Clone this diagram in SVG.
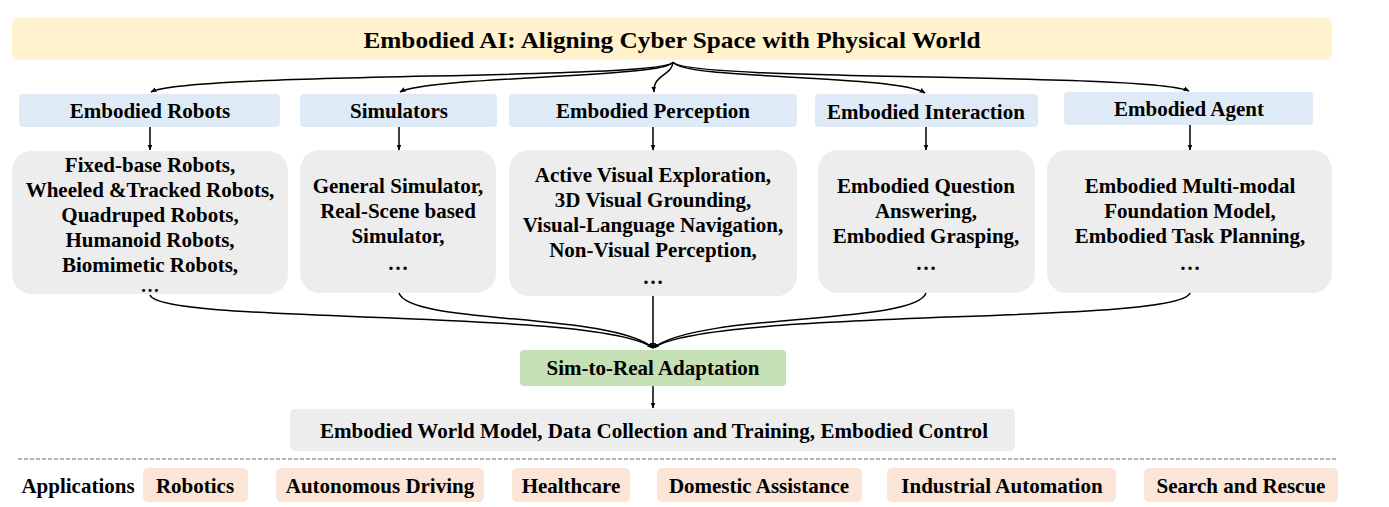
<svg xmlns="http://www.w3.org/2000/svg" width="1389" height="507" viewBox="0 0 1389 507">
<style>
text{font-family:"Liberation Serif","Times New Roman",serif;font-weight:bold;fill:#000;text-anchor:middle}
.t{font-size:21px}
.dots{font-size:19px}
.title{font-size:24px}
.lab{fill:#deebf7}
.gray{fill:#ededed}
.app{fill:#fbe5d6}
.con path{fill:none;stroke:#000;stroke-width:1.5}
</style>
<defs>
<marker id="ah" viewBox="0 0 10 10" refX="9" refY="5" markerWidth="6" markerHeight="6" orient="auto-start-reverse" markerUnits="userSpaceOnUse">
<path d="M0,1 L10,5 L0,9 Z" fill="#000"/>
</marker>
</defs>
<rect width="1389" height="507" fill="#fff"/>
<g id="title"><rect x="12" y="18" width="1320" height="42" rx="6" fill="#fff2cc"/><text class="title" x="672" y="48" textLength="617" lengthAdjust="spacingAndGlyphs">Embodied AI: Aligning Cyber Space with Physical World</text></g>
<g id="lab-robots"><rect class="lab" x="19" y="94" width="261" height="33" rx="4"/><text class="t" x="150" y="118">Embodied Robots</text></g>
<g id="lab-sim"><rect class="lab" x="300" y="94" width="197" height="33" rx="4"/><text class="t" x="399" y="118">Simulators</text></g>
<g id="lab-perc"><rect class="lab" x="509" y="94" width="288" height="33" rx="4"/><text class="t" x="653" y="118">Embodied Perception</text></g>
<g id="lab-inter"><rect class="lab" x="815" y="94" width="223" height="33" rx="4"/><text class="t" x="926" y="119">Embodied Interaction</text></g>
<g id="lab-agent"><rect class="lab" x="1064" y="92" width="249" height="33" rx="4"/><text class="t" x="1189" y="116">Embodied Agent</text></g>
<g id="box-robots"><rect class="gray" x="12" y="151" width="276" height="143" rx="20"/>
<text class="t" x="150" y="172">Fixed-base Robots,</text>
<text class="t" x="150" y="197">Wheeled &amp;Tracked Robots,</text>
<text class="t" x="150" y="222">Quadruped Robots,</text>
<text class="t" x="150" y="247">Humanoid Robots,</text>
<text class="t" x="150" y="272">Biomimetic Robots,</text>
<text class="t dots" x="150" y="292">…</text></g>
<g id="box-sim"><rect class="gray" x="300" y="150" width="196" height="143" rx="20"/>
<text class="t" x="398" y="193">General Simulator,</text>
<text class="t" x="398" y="218">Real-Scene based</text>
<text class="t" x="398" y="243">Simulator,</text>
<text class="t" x="398" y="270">…</text></g>
<g id="box-perc"><rect class="gray" x="509" y="150" width="288" height="146" rx="20"/>
<text class="t" x="653" y="182">Active Visual Exploration,</text>
<text class="t" x="653" y="207">3D Visual Grounding,</text>
<text class="t" x="653" y="232">Visual-Language Navigation,</text>
<text class="t" x="653" y="257">Non-Visual Perception,</text>
<text class="t" x="653" y="284">…</text></g>
<g id="box-inter"><rect class="gray" x="818" y="150" width="217" height="143" rx="20"/>
<text class="t" x="926" y="193">Embodied Question</text>
<text class="t" x="926" y="218">Answering,</text>
<text class="t" x="926" y="243">Embodied Grasping,</text>
<text class="t" x="926" y="270">…</text></g>
<g id="box-agent"><rect class="gray" x="1047" y="150" width="285" height="143" rx="20"/>
<text class="t" x="1190" y="193">Embodied Multi-modal</text>
<text class="t" x="1190" y="218">Foundation Model,</text>
<text class="t" x="1190" y="243">Embodied Task Planning,</text>
<text class="t" x="1190" y="270">…</text></g>
<g id="sim2real"><rect x="520" y="350" width="266" height="36" rx="4" fill="#c5e0b4"/><text class="t" x="653" y="375">Sim-to-Real Adaptation</text></g>
<g id="outcome"><rect class="gray" x="290" y="409" width="725" height="42" rx="5"/><text class="t" x="654" y="438" textLength="668" lengthAdjust="spacingAndGlyphs">Embodied World Model, Data Collection and Training, Embodied Control</text></g>
<line x1="18" y1="459" x2="1337" y2="459" stroke="#999" stroke-width="1.5" stroke-dasharray="4,2"/>
<g id="applications">
<text class="t" x="78" y="493">Applications</text>
<rect class="app" x="143" y="468" width="105" height="34" rx="5"/><text class="t" x="195" y="493">Robotics</text>
<rect class="app" x="276" y="468" width="208" height="34" rx="5"/><text class="t" x="380" y="493">Autonomous Driving</text>
<rect class="app" x="512" y="468" width="118" height="34" rx="5"/><text class="t" x="571" y="493">Healthcare</text>
<rect class="app" x="657" y="468" width="205" height="34" rx="5"/><text class="t" x="759" y="493">Domestic Assistance</text>
<rect class="app" x="887" y="468" width="229" height="34" rx="5"/><text class="t" x="1002" y="493">Industrial Automation</text>
<rect class="app" x="1144" y="468" width="194" height="34" rx="5"/><text class="t" x="1241" y="493">Search and Rescue</text>
</g>
<g class="con" id="connectors">
<path d="M673,62 C666,80 190,72 151,92" marker-end="url(#ah)"/>
<path d="M673,62 C668,78 430,76 400,92" marker-end="url(#ah)"/>
<path d="M673,62 C672,76 653,74 654,92" marker-end="url(#ah)"/>
<path d="M673,62 C682,80 895,74 925,93" marker-end="url(#ah)"/>
<path d="M673,62 C684,82 1150,72 1189,91" marker-end="url(#ah)"/>
<path d="M150,127 L150,150" marker-end="url(#ah)"/>
<path d="M399,127 L399,150" marker-end="url(#ah)"/>
<path d="M653,127 L653,150" marker-end="url(#ah)"/>
<path d="M926,127 L926,150" marker-end="url(#ah)"/>
<path d="M1190,125 L1190,150" marker-end="url(#ah)"/>
<path d="M150,295 C160,325 600,308 653,348" marker-end="url(#ah)"/>
<path d="M399,293 C410,325 610,312 653,348" marker-end="url(#ah)"/>
<path d="M653,296 L653,348" marker-end="url(#ah)"/>
<path d="M926,293 C915,325 700,312 653,348" marker-end="url(#ah)"/>
<path d="M1190,293 C1180,325 710,308 653,348" marker-end="url(#ah)"/>
<path d="M653,386 L653,408" marker-end="url(#ah)"/>
</g>
</svg>
